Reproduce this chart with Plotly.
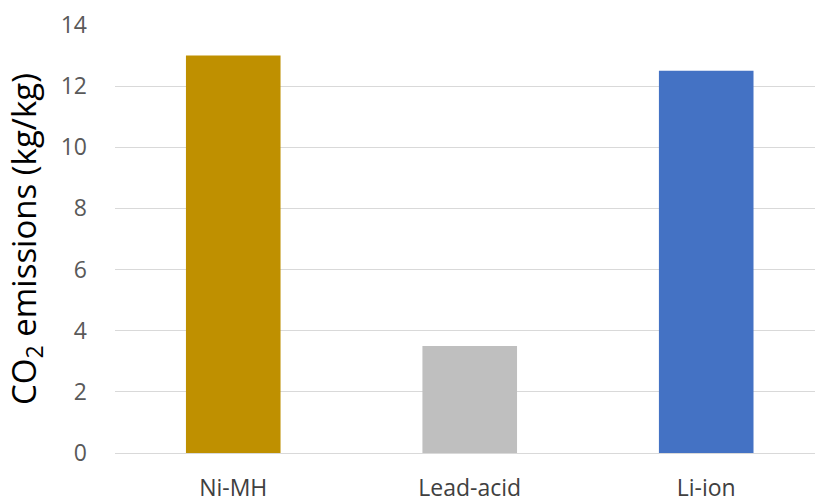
import plotly.graph_objects as go

# Battery chemistries and their CO2 emissions per kg of battery
categories = ["Ni-MH", "Lead-acid", "Li-ion"]
emissions = [13.0, 3.5, 12.5]
bar_colors = ["#BF9000", "#BFBFBF", "#4472C4"]
y_ticks = [0, 2, 4, 6, 8, 10, 12, 14]

fig = go.Figure(
    go.Bar(
        x=categories,
        y=emissions,
        marker=dict(color=bar_colors, line=dict(width=0)),
        width=0.4,
        hoverinfo="x+y",
    )
)

font_family = "Open Sans, Noto Sans, sans-serif"

fig.update_layout(
    width=815,
    height=504,
    margin=dict(l=115, r=0, t=24.5, b=50.5, pad=0),
    paper_bgcolor="white",
    plot_bgcolor="white",
    showlegend=False,
    font=dict(family=font_family, color="#595959"),
    xaxis=dict(
        range=[-0.5, 2.46],
        automargin=False,
        showgrid=False,
        showline=False,
        zeroline=False,
        ticks="",
        tickfont=dict(size=23, color="#404040"),
        ticklabelstandoff=19,
    ),
    yaxis=dict(
        range=[0, 14],
        automargin=False,
        tickvals=y_ticks,
        showgrid=True,
        gridcolor="#D9D9D9",
        gridwidth=1,
        zeroline=True,
        zerolinecolor="#D9D9D9",
        zerolinewidth=1,
        showline=False,
        ticks="",
        tickfont=dict(size=23, color="#595959"),
        ticklabelstandoff=27,
    ),
    annotations=[
        dict(
            text="CO<sub>2</sub> emissions (kg/kg)",
            textangle=-90,
            xref="paper",
            yref="paper",
            x=(25 - 115) / 700,
            y=0.5,
            xanchor="center",
            yanchor="middle",
            showarrow=False,
            font=dict(size=33, color="#000000", family=font_family),
        )
    ],
)

fig.write_html("out.html")
